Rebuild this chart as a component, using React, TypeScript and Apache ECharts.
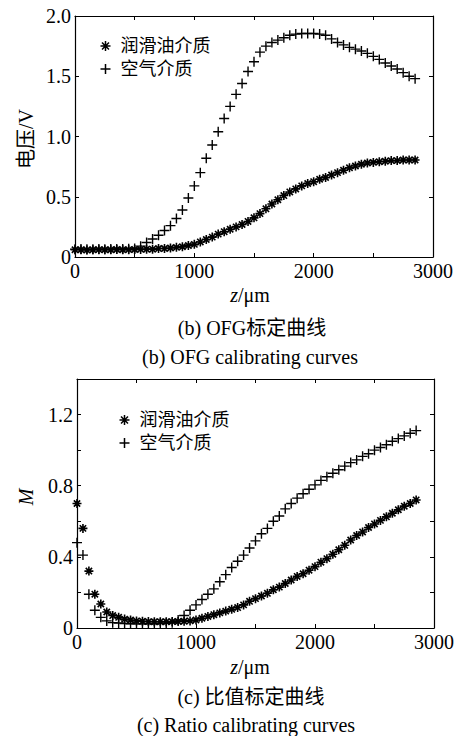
import React, { useEffect, useRef } from 'react';
import * as echarts from 'echarts';

const zPositions = [
  0, 50, 100, 150, 200, 250, 300, 350, 400, 450, 500, 550, 600, 650, 700, 750, 800, 850, 900, 950,
  1000, 1050, 1100, 1150, 1200, 1250, 1300, 1350, 1400, 1450, 1500, 1550, 1600, 1650, 1700, 1750, 1800, 1850, 1900, 1950,
  2000, 2050, 2100, 2150, 2200, 2250, 2300, 2350, 2400, 2450, 2500, 2550, 2600, 2650, 2700, 2750, 2800, 2850,
];

const ofgOil = [
  0.06, 0.06, 0.058, 0.06, 0.061, 0.06, 0.06, 0.062, 0.06, 0.061, 0.062, 0.063,
  0.065, 0.065, 0.07, 0.07, 0.075, 0.08, 0.085, 0.095, 0.105, 0.125, 0.145, 0.165, 0.19, 0.21, 0.23, 0.25,
  0.27, 0.295, 0.325, 0.36, 0.4, 0.44, 0.475, 0.51, 0.54, 0.565, 0.59, 0.61, 0.625, 0.645, 0.66, 0.68,
  0.7, 0.72, 0.74, 0.755, 0.77, 0.78, 0.785, 0.79, 0.795, 0.8, 0.8, 0.805, 0.805, 0.805,
];

const ofgAir = [
  0.065, 0.066, 0.064, 0.065, 0.066, 0.065, 0.066, 0.067, 0.066, 0.068,
  0.07, 0.09, 0.12, 0.15, 0.18, 0.22, 0.26, 0.32, 0.39, 0.49, 0.59, 0.7, 0.82, 0.93, 1.04, 1.15, 1.25, 1.35,
  1.44, 1.54, 1.62, 1.7, 1.75, 1.78, 1.8, 1.82, 1.84, 1.85, 1.855, 1.855, 1.855, 1.85, 1.84, 1.81,
  1.78, 1.76, 1.74, 1.725, 1.71, 1.69, 1.665, 1.64, 1.61, 1.585, 1.56, 1.53, 1.5, 1.48,
];

const ratioOil = [
  0.7, 0.56, 0.32, 0.19, 0.135, 0.09, 0.07, 0.06, 0.05, 0.045, 0.04, 0.038, 0.036, 0.035, 0.035, 0.035, 0.036, 0.037, 0.038, 0.04,
  0.045, 0.055, 0.065, 0.075, 0.085, 0.095, 0.105, 0.115, 0.13, 0.15, 0.165, 0.18, 0.195, 0.215, 0.23, 0.25, 0.27, 0.29, 0.305, 0.325,
  0.345, 0.37, 0.39, 0.415, 0.44, 0.465, 0.495, 0.52, 0.54, 0.565, 0.585, 0.605, 0.625, 0.645, 0.665, 0.685, 0.7, 0.72,
];

const ratioAir = [
  0.48, 0.41, 0.19, 0.1, 0.06, 0.04, 0.03, 0.028, 0.025, 0.024, 0.023, 0.023, 0.023, 0.024, 0.025, 0.027, 0.03, 0.045, 0.07, 0.1,
  0.13, 0.16, 0.19, 0.22, 0.26, 0.3, 0.34, 0.375, 0.41, 0.45, 0.49, 0.53, 0.56, 0.6, 0.63, 0.67, 0.7, 0.73, 0.755, 0.78,
  0.805, 0.83, 0.85, 0.87, 0.89, 0.91, 0.93, 0.945, 0.965, 0.98, 1.0, 1.015, 1.03, 1.05, 1.065, 1.08, 1.095, 1.11,
];

const seriesNames = ['润滑油介质', '空气介质'];

const serif = 'Liberation Serif, Noto Sans CJK SC, serif';
const plusPath = 'path://M5,0L5,10M0,5L10,5';
const starPath = 'path://M5,0L5,10M0,5L10,5M1.5,1.5L8.5,8.5M8.5,1.5L1.5,8.5';

const pairs = (xs: number[], ys: number[]) => xs.map((x, i) => [x, ys[i]]);

function xAxis(gridIndex: number, position: 'top' | 'bottom', labels: boolean) {
  return {
    type: 'value',
    gridIndex,
    position,
    min: 0,
    max: 3000,
    interval: 500,
    axisLine: { show: true, onZero: false, lineStyle: { color: '#000', width: 1.2 } },
    axisTick: { show: true, inside: true, length: 4, lineStyle: { color: '#000', width: 1 } },
    axisLabel: {
      show: labels,
      formatter: (v: number) => (v % 1000 === 0 ? String(v) : ''),
      color: '#000',
      fontFamily: serif,
      fontSize: 20,
      margin: 4,
    },
    splitLine: { show: false },
  };
}

function yAxis(gridIndex: number, position: 'left' | 'right', labels: boolean, max: number, interval: number, labelEvery: number) {
  return {
    type: 'value',
    gridIndex,
    position,
    min: 0,
    max,
    interval,
    axisLine: { show: true, onZero: false, lineStyle: { color: '#000', width: 1.2 } },
    axisTick: { show: true, inside: true, length: 4, lineStyle: { color: '#000', width: 1 } },
    axisLabel: {
      show: labels,
      formatter: (v: number) => {
        if (Math.abs(v) < 1e-9) return '0';
        const k = Math.round(v / interval);
        return k % labelEvery === 0 ? v.toFixed(1) : '';
      },
      color: '#000',
      fontFamily: serif,
      fontSize: 20,
      margin: 4,
    },
    splitLine: { show: false },
  };
}

function scatter(name: string, symbol: string, size: number, width: number, xIdx: number, yIdx: number, data: number[][]) {
  return {
    type: 'scatter',
    name,
    xAxisIndex: xIdx,
    yAxisIndex: yIdx,
    symbol,
    symbolSize: size,
    itemStyle: { color: 'none', borderColor: '#000', borderWidth: width, opacity: 1 },
    emphasis: { disabled: true },
    data,
  };
}

function text(x: number, y: number, t: string, extra: any = {}, rotation = 0) {
  return {
    type: 'text',
    x,
    y,
    rotation,
    style: {
      text: t,
      x: 0,
      y: 0,
      align: 'center',
      verticalAlign: 'middle',
      textAlign: 'center',
      textVerticalAlign: 'middle',
      fill: '#000',
      fontFamily: serif,
      fontSize: 20,
      ...extra,
    },
  };
}

export default function App() {
  const ref = useRef<HTMLDivElement>(null);
  useEffect(() => {
    document.body.style.margin = '0';
    const chart = echarts.init(ref.current!, null, { renderer: 'svg' });
    const legendBase = {
      orient: 'vertical',
      itemWidth: 20,
      itemHeight: 10,
      itemGap: 3,
      selectedMode: false,
      textStyle: { fontSize: 18, fontFamily: serif, color: '#000', lineHeight: 20 },
      itemStyle: { color: 'none', borderColor: '#000', borderWidth: 1.5 },
      data: [
        { name: seriesNames[0], icon: starPath },
        { name: seriesNames[1], icon: plusPath },
      ],
    };
    chart.setOption({
      animation: false,
      backgroundColor: '#fff',
      grid: [
        { left: 75, top: 16, width: 358, height: 241, show: false },
        { left: 77, top: 379, width: 359, height: 249, show: false },
      ],
      xAxis: [xAxis(0, 'bottom', true), xAxis(0, 'top', false), xAxis(1, 'bottom', true), xAxis(1, 'top', false)],
      yAxis: [
        yAxis(0, 'left', true, 2, 0.5, 1),
        yAxis(0, 'right', false, 2, 0.5, 1),
        yAxis(1, 'left', true, 1.4, 0.2, 2),
        yAxis(1, 'right', false, 1.4, 0.2, 2),
      ],
      legend: [
        { ...legendBase, left: 93, top: 31 },
        { ...legendBase, left: 112, top: 405 },
      ],
      series: [
        scatter(seriesNames[0], starPath, 9, 1.6, 0, 0, pairs(zPositions, ofgOil)),
        scatter(seriesNames[1], plusPath, 10, 1.4, 0, 0, pairs(zPositions, ofgAir)),
        scatter(seriesNames[0], starPath, 9, 1.6, 2, 2, pairs(zPositions, ratioOil)),
        scatter(seriesNames[1], plusPath, 10, 1.4, 2, 2, pairs(zPositions, ratioAir)),
      ],
      graphic: [
        text(26, 139, '电压/V', {}, Math.PI / 2),
        text(250, 295, '{i|z}/μm', { rich: { i: { fontStyle: 'italic', fontFamily: serif, fontSize: 20 } } }),
        text(252, 328, '(b) OFG标定曲线'),
        text(250, 357, '(b) OFG calibrating curves'),
        text(26, 497, 'M', { fontStyle: 'italic' }, Math.PI / 2),
        text(250, 667, '{i|z}/μm', { rich: { i: { fontStyle: 'italic', fontFamily: serif, fontSize: 20 } } }),
        text(251, 697, '(c) 比值标定曲线'),
        text(246, 725, '(c) Ratio calibrating curves'),
      ],
    });
    return () => chart.dispose();
  }, []);
  return <div ref={ref} style={{ width: 457, height: 736 }} />;
}
